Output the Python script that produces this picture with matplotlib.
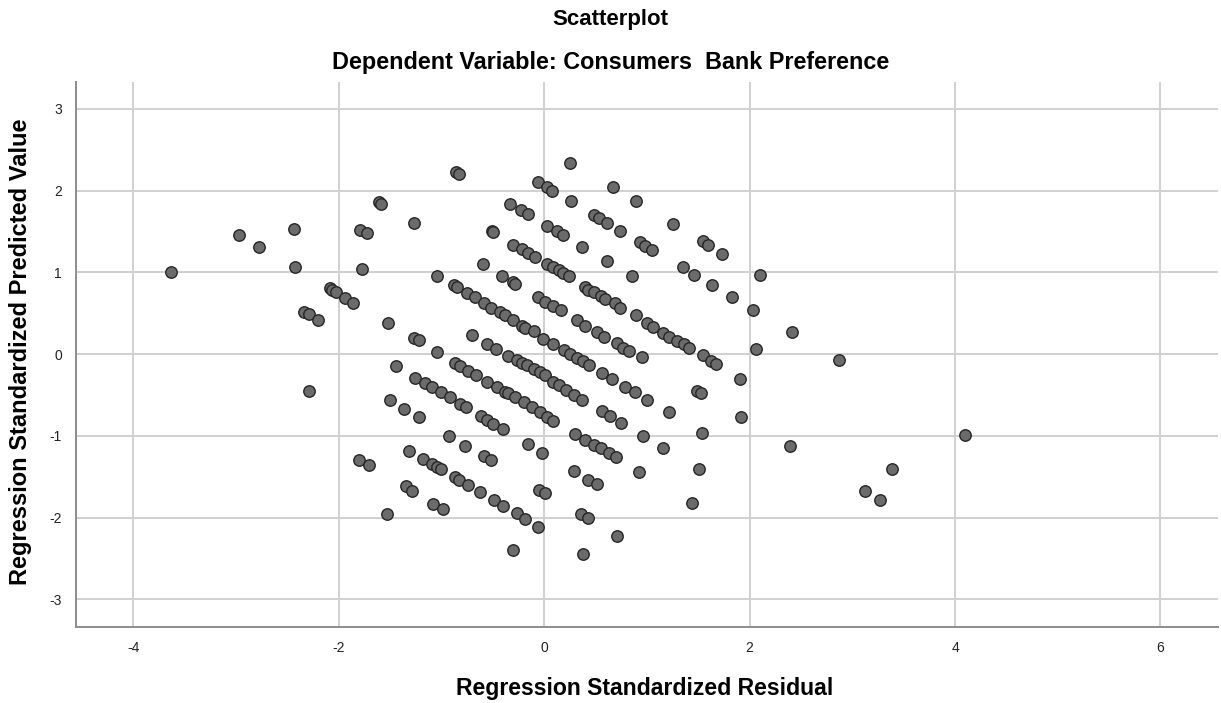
import matplotlib
matplotlib.use("Agg")
import matplotlib.pyplot as plt

# standardized residual (x) / standardized predicted value (y)
x_esq = [-3.63, -2.97, -2.78, -2.44, -2.43, -2.09, -2.07, -2.03, -1.94, -1.86,
         -2.34, -2.29, -2.20, -1.79, -1.73, -1.61, -1.59, -1.77, -1.52,
         -2.29, -1.44, -1.50, -1.37, -1.80, -1.71, -1.53,
         -1.27, -1.22, -1.04]
y_esq = [1.01, 1.46, 1.31, 1.53, 1.06, 0.81, 0.78, 0.76, 0.69, 0.63,
         0.51, 0.49, 0.42, 1.52, 1.48, 1.86, 1.84, 1.04, 0.38,
         -0.45, -0.15, -0.56, -0.67, -1.29, -1.36, -1.96,
         0.20, 0.17, 0.02]

x_topo = [-0.86, -0.83, -0.06, 0.03, 0.08, -1.27, -0.33, -0.23, -0.16, 0.03,
          0.12, 0.18, -0.51, -0.50, -0.30, -0.22, -0.16, -0.09, 0.03, 0.09,
          0.14, 0.18, 0.24, -0.60, -1.04, -0.41, -0.30, -0.28,
          0.25, 0.67, 0.26, 0.89, 0.48, 0.53, 0.61, 0.74, 1.25, 0.37,
          0.93, 0.98, 1.05, 1.55, 1.59, 1.73, 0.61, 1.35, 1.46, 1.63, 0.85]
y_topo = [2.23, 2.21, 2.11, 2.04, 2.00, 1.60, 1.84, 1.76, 1.71, 1.57,
          1.51, 1.46, 1.51, 1.50, 1.34, 1.29, 1.24, 1.19, 1.10, 1.07,
          1.03, 0.99, 0.95, 1.10, 0.96, 0.96, 0.88, 0.86,
          2.34, 2.04, 1.87, 1.87, 1.70, 1.66, 1.61, 1.51, 1.59, 1.31,
          1.37, 1.32, 1.28, 1.39, 1.34, 1.22, 1.14, 1.06, 0.97, 0.85, 0.96]

# faixas diagonais do miolo
x_faixas = [-0.88, -0.85, -0.75, -0.67, -0.59, -0.52, -0.43, -0.38, -0.30, -0.22,
            -0.19, -0.10, -0.01, 0.09, 0.19, 0.25, 0.32, 0.38, 0.44, 0.56,
            0.66, 0.79, 0.88, 1.00,
            -0.06, 0.01, 0.09, 0.16, 0.32, 0.40, 0.51, 0.58, 0.71, 0.77,
            0.83, 0.95,
            0.40, 0.43, 0.48, 0.55, 0.59, 0.69, 0.74, 0.89, 1.00, 1.06,
            1.16, 1.21, 1.29, 1.36, 1.41, 1.55, 1.62, 1.67,
            -0.70, -0.56, -0.47, -0.35, -0.27, -0.22, -0.17, -0.10, -0.04, 0.01,
            0.09, 0.14, 0.21, 0.29, 0.37, 0.56, 0.64, 0.75,
            -0.87, -0.82, -0.74, -0.66, -0.56, -0.46, -0.38, -0.35, -0.28, -0.20,
            -0.12, -0.04, 0.03, 0.09,
            -1.26, -1.16, -1.09, -1.01, -0.92, -0.82, -0.76]
y_faixas = [0.84, 0.82, 0.75, 0.70, 0.63, 0.57, 0.51, 0.48, 0.42, 0.35,
            0.32, 0.28, 0.19, 0.12, 0.05, 0.00, -0.05, -0.09, -0.13, -0.23,
            -0.31, -0.40, -0.46, -0.56,
            0.70, 0.64, 0.59, 0.54, 0.42, 0.35, 0.27, 0.21, 0.13, 0.08,
            0.04, -0.04,
            0.82, 0.79, 0.76, 0.71, 0.68, 0.62, 0.57, 0.48, 0.38, 0.33,
            0.26, 0.21, 0.16, 0.12, 0.08, -0.01, -0.08, -0.12,
            0.24, 0.12, 0.06, -0.02, -0.07, -0.11, -0.13, -0.18, -0.22, -0.26,
            -0.34, -0.38, -0.44, -0.50, -0.56, -0.69, -0.76, -0.84,
            -0.11, -0.15, -0.21, -0.26, -0.34, -0.40, -0.46, -0.48, -0.53, -0.59,
            -0.65, -0.71, -0.77, -0.82,
            -0.29, -0.35, -0.40, -0.46, -0.53, -0.61, -0.65]

x_baixo = [-1.22, -0.62, -0.56, -0.50, -0.40, -0.93, -0.77, -0.59, -0.52, -0.16,
           -0.02, -1.32, -1.18, -1.09, -1.04, -1.01, -0.87, -0.83, -0.74, -0.63,
           -0.49, -0.40, -0.27, -0.19, -0.06, -0.05, 0.01, -0.30, -1.35, -1.29,
           -1.08, -0.99,
           1.49, 1.53, 1.21, 1.54, 0.96, 1.16, 0.30, 0.40, 0.48, 0.55,
           0.63, 0.70, 1.51, 0.92, 0.29, 0.43, 0.51, 1.44, 0.36, 0.43,
           0.71, 0.38]
y_baixo = [-0.77, -0.76, -0.81, -0.85, -0.92, -1.00, -1.12, -1.25, -1.30, -1.10,
           -1.21, -1.18, -1.28, -1.35, -1.38, -1.41, -1.50, -1.54, -1.60, -1.69,
           -1.79, -1.86, -1.94, -2.02, -2.12, -1.66, -1.70, -2.40, -1.61, -1.67,
           -1.83, -1.89,
           -0.45, -0.47, -0.71, -0.96, -1.00, -1.15, -0.98, -1.05, -1.11, -1.15,
           -1.21, -1.26, -1.40, -1.44, -1.43, -1.54, -1.59, -1.82, -1.96, -2.01,
           -2.22, -2.44]

x_dir = [2.10, 1.83, 2.03, 2.41, 2.06, 2.87, 1.91, 1.92, 2.39, 3.39, 3.12, 3.27, 4.10]
y_dir = [0.97, 0.70, 0.54, 0.27, 0.06, -0.07, -0.30, -0.77, -1.13, -1.40, -1.67, -1.78, -0.99]

x_ticks = [-4, -2, 0, 2, 4, 6]
y_ticks = [-3, -2, -1, 0, 1, 2, 3]

plt.rcParams['font.family'] = ['Liberation Sans', 'DejaVu Sans']
plt.rcParams['axes.unicode_minus'] = False

fig = plt.figure(figsize=(12.21, 7.03), dpi=100)
ax = fig.add_axes([0.0622, 0.108, 0.9353, 0.7754])

xs = x_esq + x_topo + x_faixas + x_baixo + x_dir
ys = y_esq + y_topo + y_faixas + y_baixo + y_dir
ax.scatter(xs, ys, s=68, facecolor='#6b6b6b', edgecolor='#262626',
           linewidth=1.0, zorder=3)

ax.set_xlim(-4.56, 6.56)
ax.set_ylim(-3.34, 3.33)
ax.set_xticks(x_ticks)
ax.set_yticks(y_ticks)
ax.grid(True, color='#d0d0d0', linewidth=1.4)
ax.set_axisbelow(True)
ax.tick_params(length=0, labelsize=10, pad=10, colors='#222222')
for lado in ['top', 'right']:
    ax.spines[lado].set_visible(False)
for lado in ['left', 'bottom']:
    ax.spines[lado].set_color('#8c8c8c')
    ax.spines[lado].set_linewidth(1.4)

fig.text(0.528, 0.020, "Regression Standardized Residual", ha='center',
         va='center', fontsize=16.6, fontweight='bold')
fig.text(0.0164, 0.50, "Regression Standardized Predicted Value", ha='center',
         va='center', rotation=90, fontsize=17, fontweight='bold')

fig.text(0.5, 0.9716, "Scatterplot", ha='center', va='center',
         fontsize=16, fontweight='bold')
fig.text(0.5, 0.9118, "Dependent Variable: Consumers  Bank Preference",
         ha='center', va='center', fontsize=16.8, fontweight='bold')

fig.savefig("out.png", dpi=100)
